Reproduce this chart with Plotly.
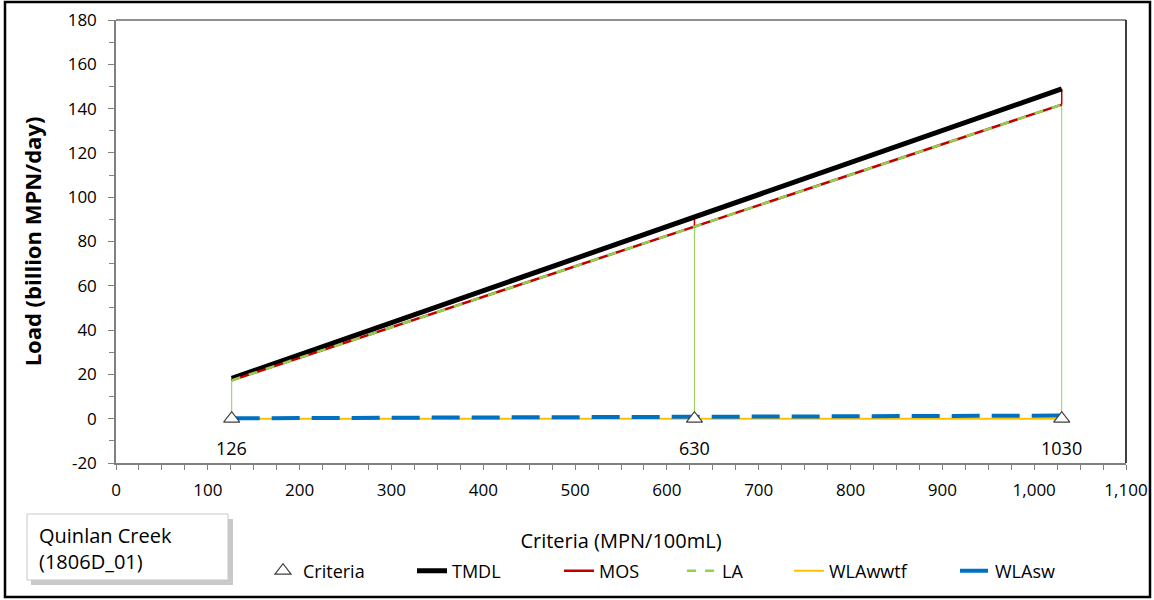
import plotly.graph_objects as go

# ---- data ----
criteria = [126, 630, 1030]
tmdl = [18.2, 91.1, 148.9]
mos_line = [17.3, 86.7, 141.8]      # TMDL minus margin of safety
la = [17.3, 86.7, 141.8]
wla_wwtf = [0.0, 0.0, 0.0]
wla_sw = [0.2, 0.9, 1.4]
criteria_labels = ["126", "630", "1030"]
y_ticks = [-20, 0, 20, 40, 60, 80, 100, 120, 140, 160, 180]
y_tick_text = ["-20", "0", "20", "40", "60", "80", "100", "120", "140", "160", "180"]

FONT = "Open Sans"
L, R, T, B = 116, 1126, 20, 463
W, H = 1154, 600


def px(x):
    return (x - L) / (R - L)


def py(y):
    return (B - y) / (B - T)


fig = go.Figure()

# drop lines (green from 0 to LA, red from LA to TMDL)
gx, gy, rx, ry = [], [], [], []
for c, l, t in zip(criteria, la, tmdl):
    gx += [c, c, None]
    gy += [0, l, None]
    rx += [c, c, None]
    ry += [l, t, None]
fig.add_trace(go.Scatter(x=gx, y=gy, mode="lines", line=dict(color="#92D050", width=1),
                         showlegend=False, hoverinfo="skip"))
fig.add_trace(go.Scatter(x=rx, y=ry, mode="lines", line=dict(color="#C00000", width=1.5),
                         showlegend=False, hoverinfo="skip"))

fig.add_trace(go.Scatter(x=criteria, y=tmdl, name="TMDL", mode="lines",
                         line=dict(color="black", width=5), legend="legend2"))
fig.add_trace(go.Scatter(x=criteria, y=mos_line, name="MOS", mode="lines",
                         line=dict(color="#C00000", width=2.5), legend="legend3"))
fig.add_trace(go.Scatter(x=criteria, y=la, name="LA", mode="lines",
                         line=dict(color="#92D050", width=2.5, dash="9px,9px"), legend="legend4"))
fig.add_trace(go.Scatter(x=criteria, y=wla_wwtf, name="WLAwwtf", mode="lines",
                         line=dict(color="#FFC000", width=2), legend="legend5"))
fig.add_trace(go.Scatter(x=criteria, y=wla_sw, name="WLAsw", mode="lines",
                         line=dict(color="#0070C0", width=4, dash="28px,12px"), legend="legend6"))
fig.add_trace(go.Scatter(x=criteria, y=[0] * len(criteria), name="Criteria", mode="markers",
                         marker=dict(symbol="triangle-up", size=14, color="white",
                                     line=dict(color="#404040", width=1.2)),
                         legend="legend"))

for c, lab in zip(criteria, criteria_labels):
    fig.add_annotation(x=c, y=0, text=lab, showarrow=False, yshift=-29,
                       font=dict(family=FONT, size=18, color="black"))

# title box with shadow
fig.add_shape(type="rect", xref="paper", yref="paper",
              x0=px(31), x1=px(233), y0=py(585), y1=py(519),
              fillcolor="rgba(120,120,120,0.4)", line=dict(width=0))
fig.add_shape(type="rect", xref="paper", yref="paper",
              x0=px(27), x1=px(228), y0=py(580), y1=py(514),
              fillcolor="white", line=dict(color="#C8C8C8", width=1))
fig.add_annotation(xref="paper", yref="paper", x=px(37), y=py(548),
                   xanchor="left", yanchor="middle", align="left", showarrow=False,
                   text="Quinlan Creek<br>(1806D_01)",
                   font=dict(family=FONT, size=20, color="black"))

# outer border
fig.add_shape(type="rect", xref="paper", yref="paper",
              x0=px(5), x1=px(1150), y0=py(597), y1=py(2),
              line=dict(color="black", width=2.5), fillcolor="rgba(0,0,0,0)")

# legends, one per entry, placed where the reference shows them
legend_text_x = {"legend": 303, "legend2": 452, "legend3": 599,
                 "legend4": 722, "legend5": 829, "legend6": 995}
legend_cfg = {}
for name, tx in legend_text_x.items():
    legend_cfg[name] = dict(orientation="h", x=px(tx - 40), y=py(571),
                            xanchor="left", yanchor="middle",
                            font=dict(family=FONT, size=18, color="black"),
                            bgcolor="rgba(0,0,0,0)", borderwidth=0)

fig.update_layout(
    width=W, height=H,
    margin=dict(l=L, r=W - R, t=T, b=H - B, autoexpand=False),
    paper_bgcolor="white", plot_bgcolor="white",
    font=dict(family=FONT, size=17, color="black"),
    showlegend=True,
    **legend_cfg,
    xaxis=dict(range=[0, 1100], dtick=100, tickformat=",", showgrid=False, zeroline=False,
               automargin=False,
               ticks="outside", ticklen=5, tickcolor="#808080", ticklabelstandoff=6,
               showline=True, linecolor="#808080", linewidth=1.5, mirror=False,
               minor=dict(dtick=25, ticks="outside", ticklen=5, tickcolor="#808080"),
               tickfont=dict(size=17),
               title=dict(text="Criteria (MPN/100mL)", font=dict(size=20), standoff=34)),
    yaxis=dict(range=[-20, 180], tickvals=y_ticks, ticktext=y_tick_text,
               showgrid=False, zeroline=False, automargin=False,
               ticks="outside", ticklen=6, tickcolor="#808080", ticklabelstandoff=8,
               showline=True, linecolor="#808080", linewidth=1.5,
               minor=dict(dtick=10, ticks="outside", ticklen=5, tickcolor="#808080"),
               tickfont=dict(size=17),
               title=dict(text="<b>Load (billion MPN/day)</b>", font=dict(size=22), standoff=20)),
)

# plot-area top (gray) and right (black) edges
fig.add_shape(type="line", xref="paper", yref="paper", x0=0, x1=1, y0=1, y1=1,
              line=dict(color="#909090", width=2))
fig.add_shape(type="line", xref="paper", yref="paper", x0=1, x1=1, y0=0, y1=1,
              line=dict(color="black", width=1.5))

fig.write_html("out.html", config={"displayModeBar": False},
               post_script="document.body.style.margin='0';document.body.style.padding='0';")
